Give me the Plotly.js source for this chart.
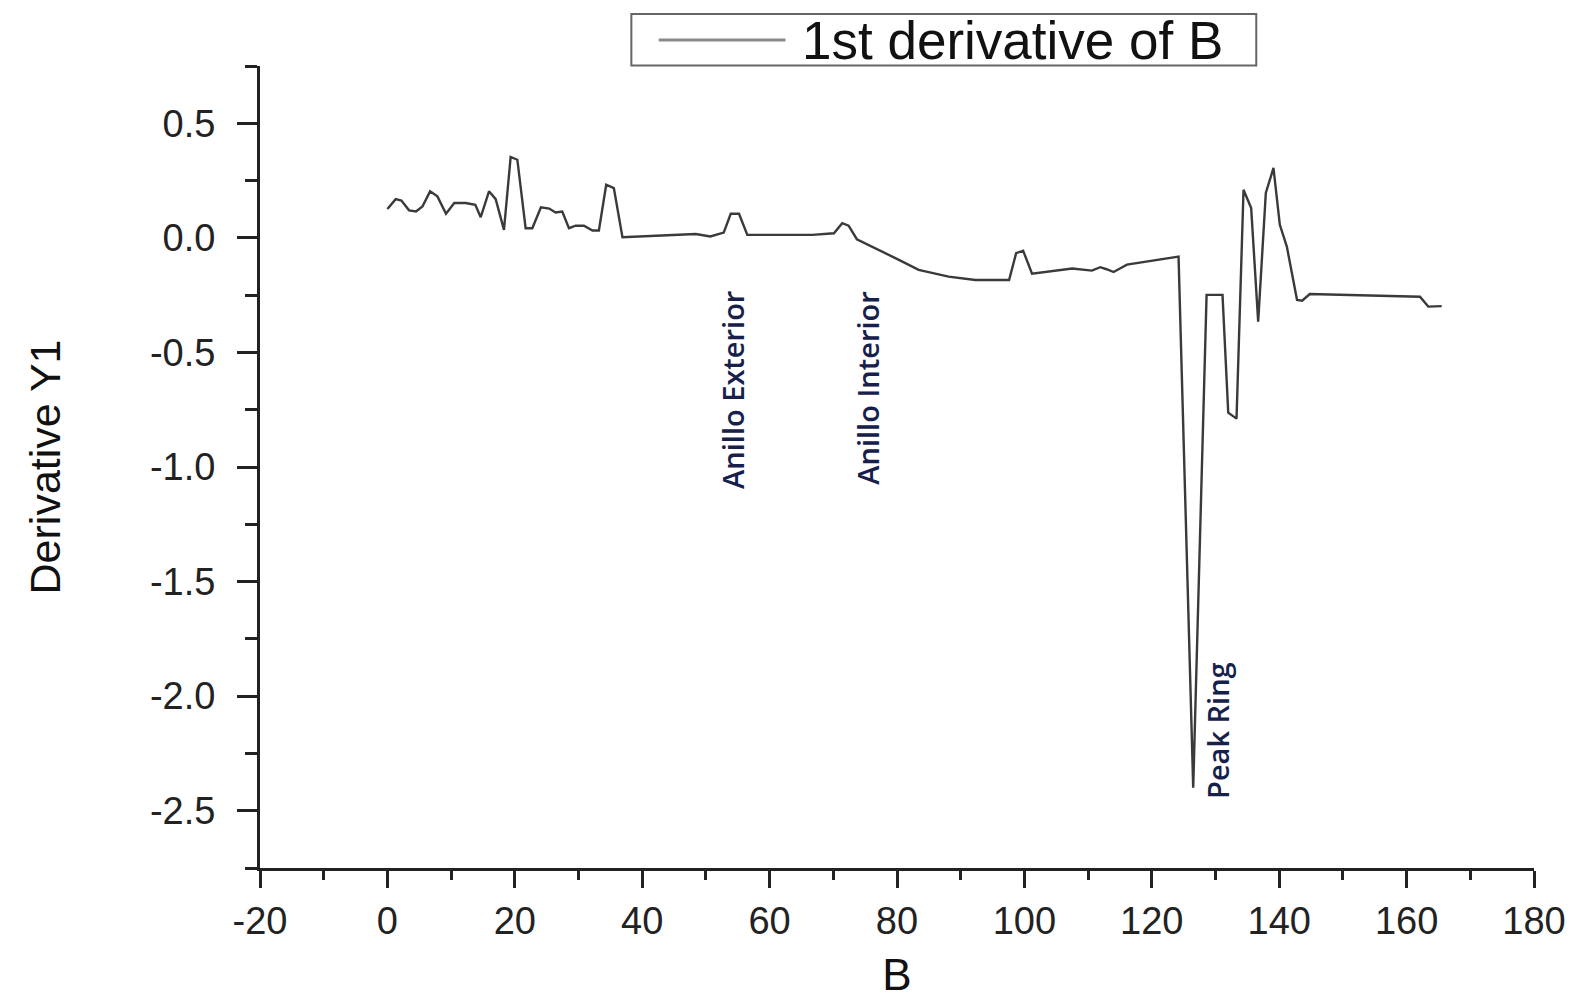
<!DOCTYPE html>
<html>
<head>
<meta charset="utf-8">
<script src="https://cdn.plot.ly/plotly-3.0.1.min.js"></script>
<style>
  html, body { margin: 0; padding: 0; background: #ffffff; }
  #chart { width: 1577px; height: 999px; }
</style>
</head>
<body>
<div id="chart"></div>
<script>
// ---- Data ----
const bValues = [
  0, 1.3, 2.2, 3.4, 4.5, 5.5, 6.7, 7.85, 9.2, 10.5, 12.3, 13.8, 14.65, 15.95, 17.0, 18.3,
  19.35, 20.4, 21.7, 22.75, 24.1, 25.4, 26.4, 27.45, 28.5, 29.55, 30.85, 32.2, 33.2, 34.35, 35.55, 36.9,
  48.4, 50.7, 52.8, 53.9, 55.2, 56.5, 66.7, 70.1, 71.4, 72.4, 73.7, 75.0, 77.65, 80.3, 83.4, 88.1,
  92.3, 97.6, 98.7, 99.8, 101.2, 107.5, 110.6, 111.9, 112.9, 114.0, 115.0, 116.1, 124.2, 126.5,
  128.6, 131.1, 132.0, 133.3, 134.4, 135.6, 136.7, 137.9, 139.1, 140.1, 141.2, 142.8, 143.6, 144.8,
  162.1, 163.4, 165.5
];
const derivativeValues = [
  0.126, 0.169, 0.163, 0.120, 0.115, 0.137, 0.203, 0.181, 0.105, 0.152, 0.152, 0.144, 0.090, 0.203, 0.169, 0.035,
  0.353, 0.341, 0.042, 0.042, 0.133, 0.128, 0.111, 0.115, 0.042, 0.053, 0.053, 0.032, 0.032, 0.232, 0.217, 0.003,
  0.017, 0.006, 0.023, 0.105, 0.105, 0.013, 0.013, 0.020, 0.064, 0.053, -0.006, -0.023, -0.060, -0.096, -0.140, -0.169,
  -0.184, -0.184, -0.067, -0.056, -0.156, -0.134, -0.143, -0.128, -0.137, -0.149, -0.134, -0.117, -0.082, -2.400,
  -0.249, -0.249, -0.763, -0.789, 0.210, 0.130, -0.366, 0.196, 0.305, 0.057, -0.038, -0.271, -0.274, -0.245,
  -0.257, -0.300, -0.298
];
const seriesName = "1st derivative of B";

const xTickVals = [-20, 0, 20, 40, 60, 80, 100, 120, 140, 160, 180];
const xTickText = ["-20", "0", "20", "40", "60", "80", "100", "120", "140", "160", "180"];
const yTickVals = [0.5, 0.0, -0.5, -1.0, -1.5, -2.0, -2.5];
const yTickText = ["0.5", "0.0", "-0.5", "-1.0", "-1.5", "-2.0", "-2.5"];

const labelTexts = ["Anillo Exterior", "Anillo Interior", "Peak Ring"];
const labelX = [54.2, 75.4, 130.3];
const labelY = [-0.665, -0.655, -2.15];

// ---- Chart ----
const axisColor = "#222222";
const tickFont = { family: "Liberation Sans, Arial, sans-serif", size: 38, color: "#222222" };

const trace = {
  x: bValues,
  y: derivativeValues,
  type: "scatter",
  mode: "lines",
  name: seriesName,
  line: { color: "#3a3a3a", width: 2.4 },
  showlegend: false,
  hoverinfo: "x+y"
};

const annotations = labelTexts.map((t, i) => ({
  x: labelX[i], y: labelY[i], xref: "x", yref: "y",
  text: t, showarrow: false, textangle: -90,
  font: { family: "Open Sans, Noto Sans, sans-serif", size: 29, weight: 600, color: "#16204a" }
}));

// legend drawn as box + sample line + text
annotations.push({
  x: 0.4235, y: 1.0324, xref: "paper", yref: "paper",
  xanchor: "left", yanchor: "middle",
  text: seriesName, showarrow: false,
  font: { family: "Liberation Sans, Arial, sans-serif", size: 53, color: "#111111" }
});

const layout = {
  width: 1577,
  height: 999,
  margin: { l: 260, r: 43, t: 66, b: 131 },
  paper_bgcolor: "#ffffff",
  plot_bgcolor: "#ffffff",
  showlegend: false,
  xaxis: {
    range: [-20, 180],
    tickmode: "array",
    tickvals: xTickVals,
    ticktext: xTickText,
    showline: true, linewidth: 3, linecolor: axisColor,
    ticks: "outside", ticklen: 17, tickwidth: 3, tickcolor: axisColor,
    showgrid: false, zeroline: false,
    tickfont: tickFont,
    minor: { tickmode: "linear", tick0: 0, dtick: 10, ticks: "outside", ticklen: 9, tickwidth: 3, tickcolor: axisColor, showgrid: false },
    title: { text: "B", font: { family: "Liberation Sans, Arial, sans-serif", size: 44, color: "#111111" }, standoff: 28 },
    automargin: false
  },
  yaxis: {
    range: [-2.75, 0.75],
    tickmode: "array",
    tickvals: yTickVals,
    ticktext: yTickText,
    showline: true, linewidth: 3, linecolor: axisColor,
    ticks: "outside", ticklen: 20, tickwidth: 3, tickcolor: axisColor,
    showgrid: false, zeroline: false,
    tickfont: tickFont,
    ticklabelstandoff: 14,
    minor: { tickmode: "linear", tick0: 0, dtick: 0.25, ticks: "outside", ticklen: 12, tickwidth: 3, tickcolor: axisColor, showgrid: false },
    title: { text: "Derivative Y1", font: { family: "Liberation Sans, Arial, sans-serif", size: 43, color: "#111111" }, standoff: 76 },
    automargin: false
  },
  shapes: [
    { type: "rect", xref: "paper", yref: "paper", x0: 0.2915, x1: 0.782, y0: 1.0007, y1: 1.0648,
      line: { color: "#666666", width: 2 }, fillcolor: "rgba(0,0,0,0)" },
    { type: "line", xref: "paper", yref: "paper", x0: 0.313, x1: 0.4125, y0: 1.0324, y1: 1.0324,
      line: { color: "#8a8a8a", width: 3 } }
  ],
  annotations: annotations
};

Plotly.newPlot("chart", [trace], layout, { displayModeBar: false, staticPlot: true });
</script>
</body>
</html>
